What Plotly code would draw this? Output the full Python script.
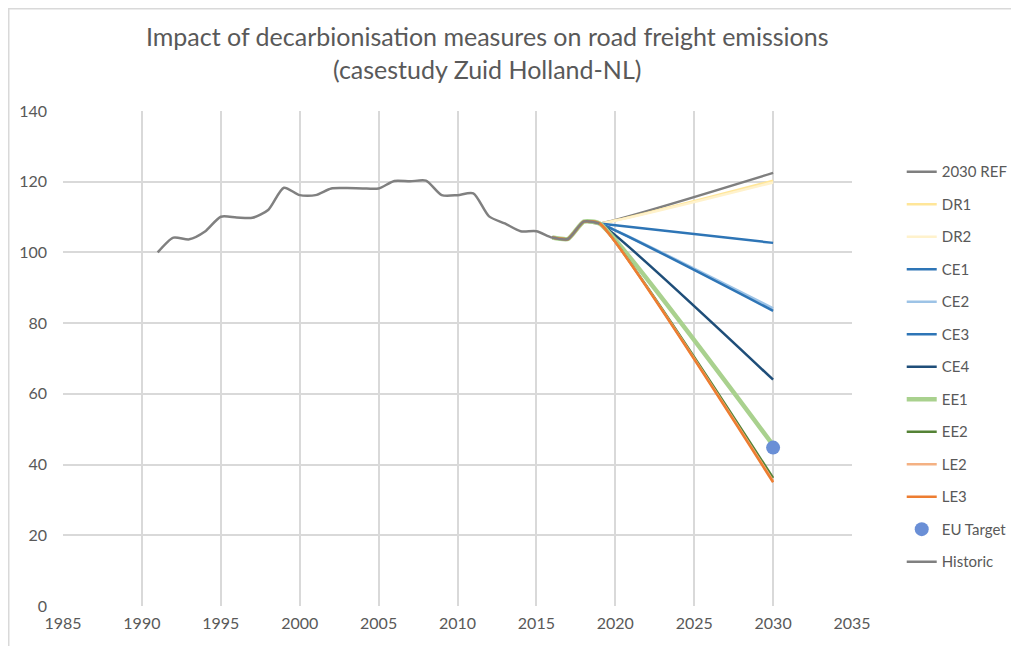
import plotly.graph_objects as go

hist_years = list(range(1991, 2020))
hist_vals = [100, 104.2, 103.7, 105.9, 110.1, 109.9, 109.8, 112, 118.3, 116.2,
             116.2, 118.1, 118.2, 118.1, 118.1, 120.2, 120.1, 120.3, 116.2, 116.2,
             116.7, 110.2, 108.2, 106, 106, 104.2, 103.8, 108.7, 108.2]

scen_years = [2016, 2017, 2018, 2019, 2030]
scen_base = [104.2, 103.8, 108.7, 108.2]
scenario_names = ["2030 REF", "DR1", "DR2", "CE1", "CE2", "CE3", "CE4", "EE1", "EE2", "LE2", "LE3"]
scenario_2030 = [122.5, 120.3, 119.8, 102.7, 84.2, 83.5, 64.0, 45.5, 36.2, 35.4, 35.0]
scenario_colors = ["#7F7F7F", "#FFE699", "#FFF2CC", "#2E75B6", "#9DC3E6", "#2E75B6",
                   "#1F4E79", "#A9D18E", "#548235", "#F4B183", "#ED7D31"]
scenario_widths = [2.5, 2.5, 2.5, 2.5, 2.5, 2.5, 2.5, 4.5, 2.5, 2.5, 2.5]

target_year = [2030]
target_val = [44.8]

FONT = "Lato, Open Sans, sans-serif"

fig = go.Figure()
for i, name in enumerate(scenario_names):
    fig.add_trace(go.Scatter(
        x=scen_years, y=scen_base + [scenario_2030[i]], mode="lines", name=name,
        legendgroup=name,
        line=dict(color=scenario_colors[i], width=scenario_widths[i], shape="spline", smoothing=0.5)))
fig.add_trace(go.Scatter(x=target_year, y=target_val, mode="markers", name="EU Target",
                         legendgroup="EU Target",
                         marker=dict(color="#6A8FD6", size=14)))
fig.add_trace(go.Scatter(x=hist_years, y=hist_vals, mode="lines", name="Historic",
                         legendgroup="Historic",
                         line=dict(color="#808080", width=2.5, shape="spline", smoothing=0.7)))

grid = "#D9D9D9"
tickfont = dict(family=FONT, size=16, color="#595959")
W, H = 1011, 638
fig.update_layout(
    width=W, height=H,
    paper_bgcolor="white", plot_bgcolor="white",
    margin=dict(l=55, r=167, t=103, b=40, autoexpand=False),
    title=dict(text="Impact of decarbionisation measures on road freight emissions<br>(casestudy Zuid Holland-NL)",
               x=0.474, xanchor="center", y=0.94, yanchor="top",
               font=dict(family=FONT, size=25, color="#595959")),
    xaxis=dict(range=[1985, 2035], dtick=5, tick0=1985, showgrid=True, gridcolor=grid, gridwidth=1.5,
               zeroline=False, showline=False, tickfont=tickfont, ticks="", automargin=False,
               ticklabelstandoff=6),
    yaxis=dict(range=[0, 140], dtick=20, showgrid=True, gridcolor=grid, gridwidth=1.5,
               zeroline=False, showline=False, tickfont=tickfont, ticks="", automargin=False,
               ticklabelstandoff=15),
    legend=dict(xref="container", yref="container", x=0.884, y=0.769, xanchor="left", yanchor="top",
                font=dict(family=FONT, size=15, color="#595959"), maxheight=600,
                tracegroupgap=10, traceorder="grouped", bgcolor="rgba(0,0,0,0)"),
    showlegend=True,
)
# chart-area border (left and top edges visible in the reference)
fig.add_shape(type="line", xref="paper", yref="paper",
              x0=-54.5/789, x1=-54.5/789, y0=-40/495, y1=(495 + 102.5) / 495,
              line=dict(color="#D9D9D9", width=2))
fig.add_shape(type="line", xref="paper", yref="paper",
              x0=-55/789, x1=(W - 55) / 789, y0=(495 + 102.5) / 495, y1=(495 + 102.5) / 495,
              line=dict(color="#D9D9D9", width=2))
fig.write_html("out.html")
